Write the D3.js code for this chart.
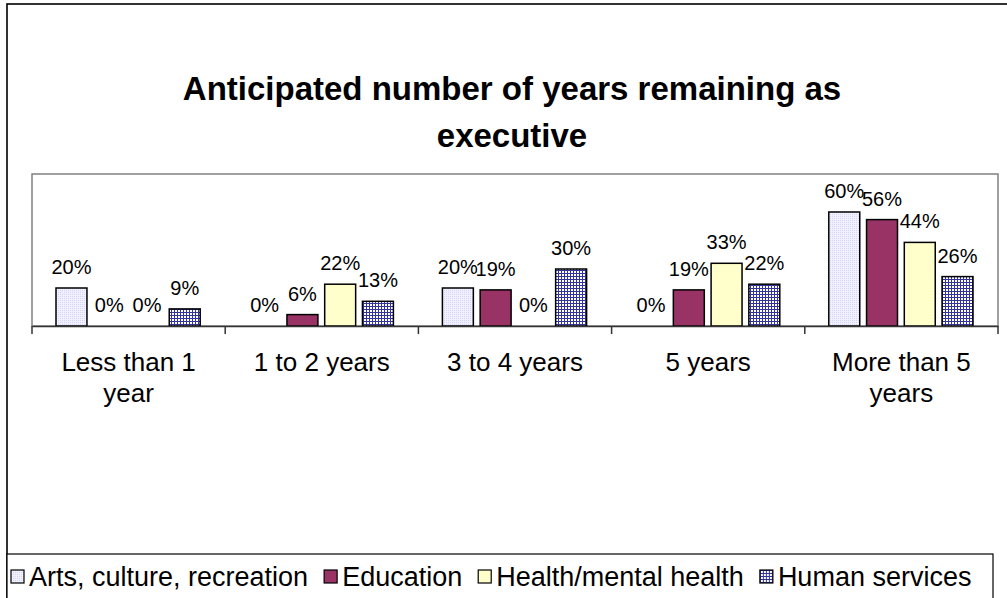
<!DOCTYPE html>
<html>
<head>
<meta charset="utf-8">
<script src="https://cdn.jsdelivr.net/npm/d3@7"></script>
<style>
  body { margin: 0; background: #fff; }
  svg text { font-family: Arial, "Liberation Sans", sans-serif; fill: #000; }
</style>
</head>
<body>
<div id="chart"></div>
<script>
// chart values
var categories = ["Less than 1 year", "1 to 2 years", "3 to 4 years", "5 years", "More than 5 years"];
var seriesNames = ["Arts, culture, recreation", "Education", "Health/mental health", "Human services"];
var arts = [20, 0, 20, 0, 60];
var education = [0, 6, 19, 19, 56];
var health = [0, 22, 0, 33, 44];
var human = [9, 13, 30, 22, 26];
var yTicks = [0, 80];

var width = 1007, height = 598;

var svg = d3.select("#chart").append("svg")
    .attr("width", width)
    .attr("height", height);

// fill patterns (Excel 2003 style)
var defs = svg.append("defs");
var p1 = defs.append("pattern").attr("id", "patArts")
    .attr("width", 2).attr("height", 2).attr("patternUnits", "userSpaceOnUse");
p1.append("rect").attr("width", 2).attr("height", 2).attr("fill", "#f0f0ff");
p1.append("rect").attr("width", 1).attr("height", 1).attr("fill", "#d4d4f4");

var p4 = defs.append("pattern").attr("id", "patHuman")
    .attr("width", 3).attr("height", 3).attr("patternUnits", "userSpaceOnUse");
p4.append("rect").attr("width", 3).attr("height", 3).attr("fill", "#333399");
p4.append("rect").attr("x", 1).attr("y", 1).attr("width", 2).attr("height", 2).attr("fill", "#ffffff");

var fills = ["url(#patArts)", "#993366", "#ffffcc", "url(#patHuman)"];
var allSeries = [arts, education, health, human];

// outer chart border (runs past the right/bottom edge of the window)
svg.append("rect")
    .attr("x", 7).attr("y", 4)
    .attr("width", 1030).attr("height", 640)
    .attr("fill", "none")
    .attr("stroke", "#000")
    .attr("stroke-width", 1.6);

// title
var title = svg.append("text")
    .attr("x", 512).attr("y", 100)
    .attr("text-anchor", "middle")
    .style("font-weight", "bold")
    .style("font-size", "33px");
title.append("tspan").attr("x", 512).text("Anticipated number of years remaining as");
title.append("tspan").attr("x", 512).attr("dy", 47).text("executive");

// plot area
var plot = {left: 32, top: 174, right: 998, bottom: 326};

var x0 = d3.scaleBand()
    .domain(categories)
    .range([plot.left, plot.right])
    .paddingInner(0)
    .paddingOuter(0);

var x1 = d3.scaleBand()
    .domain(seriesNames)
    .range([24, x0.bandwidth() - 25])
    .paddingInner(0.18);

var y = d3.scaleLinear()
    .domain([yTicks[0] / 100, yTicks[1] / 100])
    .range([plot.bottom, plot.top]);

svg.append("rect")
    .attr("x", plot.left).attr("y", plot.top)
    .attr("width", plot.right - plot.left)
    .attr("height", plot.bottom - plot.top)
    .attr("fill", "#fff")
    .attr("stroke", "#808080")
    .attr("stroke-width", 1.5);

// bars
var rows = [];
categories.forEach(function(c, i) {
    seriesNames.forEach(function(s, j) {
        rows.push({cat: c, series: s, idx: j, value: allSeries[j][i] / 100});
    });
});

var g = svg.append("g");
g.selectAll("rect.bar")
    .data(rows.filter(function(d) { return d.value > 0; }))
    .enter().append("rect")
    .attr("class", "bar")
    .attr("x", function(d) { return x0(d.cat) + x1(d.series); })
    .attr("y", function(d) { return y(d.value); })
    .attr("width", x1.bandwidth())
    .attr("height", function(d) { return y(0) - y(d.value); })
    .attr("fill", function(d) { return fills[d.idx]; })
    .attr("stroke", "#000")
    .attr("stroke-width", 1.5);

// data labels
g.selectAll("text.lbl")
    .data(rows)
    .enter().append("text")
    .attr("class", "lbl")
    .attr("x", function(d) { return x0(d.cat) + x1(d.series) + x1.bandwidth() / 2; })
    .attr("y", function(d) { return y(d.value) - 14; })
    .attr("text-anchor", "middle")
    .style("font-size", "20px")
    .text(function(d) { return d3.format(".0%")(d.value); });

// category axis
var xAxis = d3.axisBottom(x0).tickSize(0).tickFormat("");
var ax = svg.append("g")
    .attr("transform", "translate(0," + plot.bottom + ")")
    .call(xAxis);
ax.select(".domain").attr("stroke", "#333").attr("stroke-width", 1.5);

// tick marks at category boundaries
var bounds = categories.map(function(c) { return x0(c); }).concat([plot.right]);
ax.selectAll("line.bound")
    .data(bounds)
    .enter().append("line")
    .attr("class", "bound")
    .attr("x1", function(d) { return d; })
    .attr("x2", function(d) { return d; })
    .attr("y1", 0).attr("y2", 8)
    .attr("stroke", "#333")
    .attr("stroke-width", 1.5);

var catLabels = ax.selectAll("text.cat")
    .data(categories)
    .enter().append("text")
    .attr("class", "cat")
    .attr("x", function(d) { return x0(d) + x0.bandwidth() / 2; })
    .attr("y", 45)
    .attr("text-anchor", "middle")
    .attr("fill", "#000")
    .style("font-size", "26px")
    .text(function(d) { return d; });

catLabels.call(wrap, 175);

function wrap(text, w) {
    text.each(function() {
        var t = d3.select(this);
        var words = t.text().split(/\s+/);
        var cx = t.attr("x");
        var line = [];
        t.text(null);
        var tspan = t.append("tspan").attr("x", cx).attr("dy", 0);
        words.forEach(function(word) {
            line.push(word);
            tspan.text(line.join(" "));
            if (tspan.node().getComputedTextLength() > w && line.length > 1) {
                line.pop();
                tspan.text(line.join(" "));
                line = [word];
                tspan = t.append("tspan").attr("x", cx).attr("dy", 31).text(word);
            }
        });
    });
}

// legend
svg.append("rect")
    .attr("x", 7).attr("y", 554)
    .attr("width", 986).attr("height", 80)
    .attr("fill", "#fff")
    .attr("stroke", "#000")
    .attr("stroke-width", 1.2);

var leg = svg.selectAll("g.leg")
    .data(seriesNames)
    .enter().append("g")
    .attr("class", "leg");

leg.append("rect")
    .attr("y", 570)
    .attr("width", 13).attr("height", 13)
    .attr("fill", function(d, i) { return fills[i]; })
    .attr("stroke", "#000")
    .attr("stroke-width", 1.2);

leg.append("text")
    .attr("x", 18).attr("y", 586)
    .style("font-size", "27px")
    .text(function(d) { return d; });

// lay the legend entries out one after another
var lx = 11;
leg.each(function() {
    var item = d3.select(this);
    item.attr("transform", "translate(" + lx + ",0)");
    lx += 18 + item.select("text").node().getComputedTextLength() + 16;
});
</script>
</body>
</html>
